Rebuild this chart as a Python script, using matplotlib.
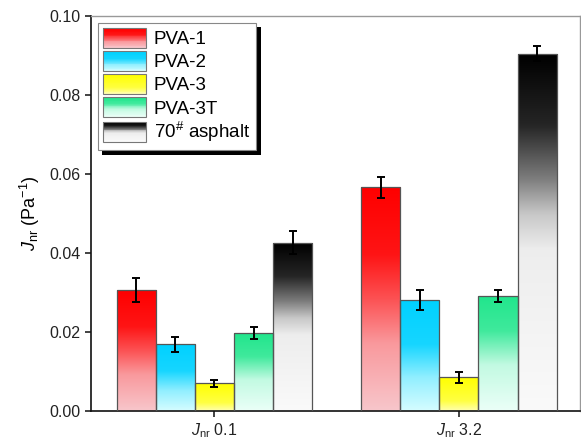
import numpy as np
import matplotlib
matplotlib.use('Agg')
import matplotlib.pyplot as plt
from matplotlib.patches import Rectangle
import matplotlib.patheffects as pe

plt.rcParams['font.family'] = ['Liberation Sans', 'DejaVu Sans']
plt.rcParams['mathtext.fontset'] = 'custom'
plt.rcParams['mathtext.rm'] = 'Liberation Sans'
plt.rcParams['mathtext.it'] = 'Liberation Sans:italic'

# data
groups = ['$J_{\\mathrm{nr}}$ 0.1', '$J_{\\mathrm{nr}}$ 3.2']
labels = ['PVA-1', 'PVA-2', 'PVA-3', 'PVA-3T', '70$^{\\#}$ asphalt']
jnr_01 = [0.0306, 0.0168, 0.0069, 0.0197, 0.0426]
jnr_32 = [0.0566, 0.0280, 0.0085, 0.0290, 0.0905]
err_01 = [0.0030, 0.0020, 0.0009, 0.0015, 0.0030]
err_32 = [0.0026, 0.0025, 0.0014, 0.0015, 0.0020]

# gradient colours: top colour, bottom colour, fade curve (height -> amount of top colour)
top_cols = [(1.0, 0.0, 0.0), (0.0, 0.82, 1.0), (1.0, 1.0, 0.0), (0.13, 0.9, 0.55), (0.0, 0.0, 0.0)]
bot_cols = [(0.97, 0.80, 0.82), (0.88, 1.0, 1.0), (1.0, 1.0, 0.86), (0.92, 1.0, 0.97), (0.98, 0.98, 0.98)]
fade_h = [[0, 0.3, 0.5, 0.7, 1], [0, 0.3, 0.6, 1], [0, 0.3, 1], [0, 0.4, 0.7, 1], [0, 0.45, 0.55, 0.65, 0.8, 1]]
fade_f = [[0.03, 0.25, 0.6, 0.9, 1], [0.05, 0.35, 0.9, 1], [0.2, 0.7, 1], [0, 0.2, 0.85, 1], [0, 0.05, 0.2, 0.5, 0.85, 1]]


def grad_colors(i, n=120):
    h = np.linspace(0, 1, n)
    f = np.interp(h, fade_h[i], fade_f[i])
    top = np.array(top_cols[i])
    bot = np.array(bot_cols[i])
    return bot[None, :] + (top - bot)[None, :] * f[:, None]


class GradHandler:
    def __init__(self, i):
        self.i = i

    def legend_artist(self, legend, orig_handle, fontsize, handlebox):
        x0, y0 = -handlebox.xdescent, -handlebox.ydescent
        w, h = handlebox.width, handlebox.height
        cols = grad_colors(self.i, 24)
        n = len(cols)
        for k in range(n):
            r = Rectangle([x0, y0 + k * h / n], w, h / n * 1.05, facecolor=cols[k],
                          edgecolor='none', transform=handlebox.get_transform())
            handlebox.add_artist(r)
        box = Rectangle([x0, y0], w, h, facecolor='none', edgecolor='#777777', lw=0.8,
                        transform=handlebox.get_transform())
        handlebox.add_artist(box)
        return box


fig = plt.figure(figsize=(5.81, 4.41), dpi=100)
ax = fig.add_axes([0.1566, 0.0687, 0.8414, 0.895])

x = np.arange(1, len(groups) + 1)
width = 0.16
handles = []
for i in range(len(labels)):
    vals = [jnr_01[i], jnr_32[i]]
    errs = [err_01[i], err_32[i]]
    xs = x + (i - 2) * width
    bars = ax.bar(xs, vals, width, facecolor='none', edgecolor='#555555', lw=0.9, zorder=3)
    handles.append(bars[0])
    for b in bars:
        bx, by = b.get_x(), b.get_y()
        bw, bh = b.get_width(), b.get_height()
        img = grad_colors(i)[::-1][:, None, :]
        im = ax.imshow(img, extent=[bx, bx + bw, by, by + bh], aspect='auto',
                       origin='upper', zorder=2, interpolation='bilinear')
        im.set_clip_path(b)
    ax.errorbar(xs, vals, yerr=errs, fmt='none', ecolor='black', elinewidth=1.4,
                capsize=3, capthick=1.4, zorder=4)

ax.set_xlim(0.495, 2.495)
ax.set_ylim(0, 0.10)
ax.set_xticks(x)
ax.set_xticklabels(groups, fontsize=11.5)
ax.set_yticks(np.arange(0, 0.101, 0.02))
ax.set_yticklabels(['%.2f' % v for v in np.arange(0, 0.101, 0.02)], fontsize=11.5)
ax.tick_params(direction='out', length=4, width=1.2, colors='#222222')
ax.set_ylabel('$J_{\\mathrm{nr}}$ (Pa$^{-1}$)', fontsize=13, labelpad=5)

for s in ['left', 'bottom']:
    ax.spines[s].set_color('#111111')
    ax.spines[s].set_linewidth(1.2)
for s in ['top', 'right']:
    ax.spines[s].set_color('#999999')
    ax.spines[s].set_linewidth(1.0)

leg = ax.legend(handles, labels, loc='upper left', fontsize=13.5,
                handler_map={h: GradHandler(i) for i, h in enumerate(handles)},
                handlelength=2.3, handleheight=1.25, labelspacing=0.15,
                handletextpad=0.4, borderpad=0.3, borderaxespad=0.35,
                fancybox=False, framealpha=1, edgecolor='#888888')
leg.get_frame().set_linewidth(0.8)
leg.legendPatch.set_path_effects([pe.SimplePatchShadow(offset=(3.5, -3.5), shadow_rgbFace='black', alpha=1),
                                  pe.Normal()])
leg.set_zorder(10)

fig.savefig('out.png', dpi=100)
